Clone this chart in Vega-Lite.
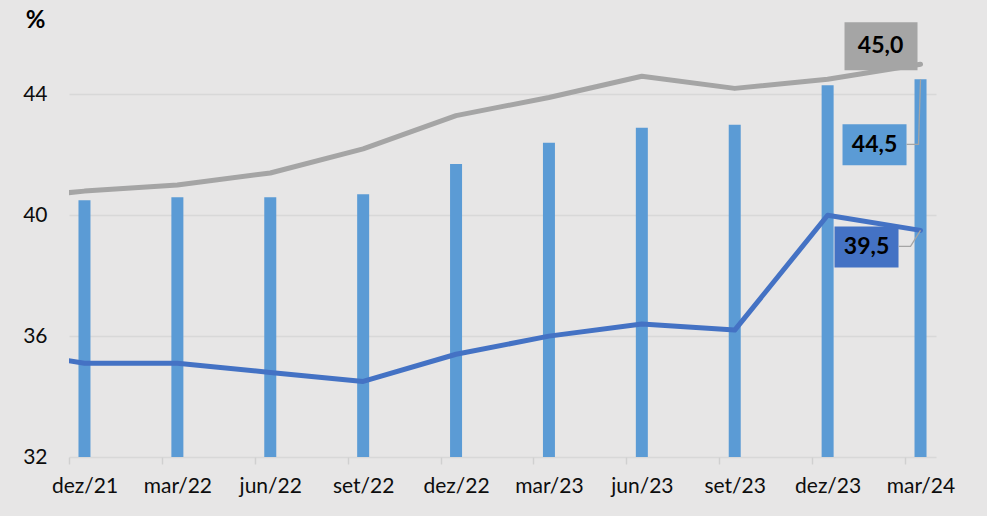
{
  "$schema": "https://vega.github.io/schema/vega-lite/v6.json",
  "autosize": "none",
  "width": 867,
  "height": 423,
  "padding": {"left": 69, "top": 34, "right": 51, "bottom": 59},
  "background": "#e7e6e6",
  "config": {"view": {"stroke": null}, "font": "Lato"},
  "datasets": {
    "bars": [
      {"m": 0, "v": 40.5}, {"m": 3, "v": 40.6}, {"m": 6, "v": 40.6}, {"m": 9, "v": 40.7},
      {"m": 12, "v": 41.7}, {"m": 15, "v": 42.4}, {"m": 18, "v": 42.9}, {"m": 21, "v": 43.0},
      {"m": 24, "v": 44.3}, {"m": 27, "v": 44.5}
    ],
    "lines": [
      {"series": "cinza", "m": -3, "v": 40.5}, {"series": "cinza", "m": 0, "v": 40.8},
      {"series": "cinza", "m": 3, "v": 41.0}, {"series": "cinza", "m": 6, "v": 41.4},
      {"series": "cinza", "m": 9, "v": 42.2}, {"series": "cinza", "m": 12, "v": 43.3},
      {"series": "cinza", "m": 15, "v": 43.9}, {"series": "cinza", "m": 18, "v": 44.6},
      {"series": "cinza", "m": 21, "v": 44.2}, {"series": "cinza", "m": 24, "v": 44.5},
      {"series": "cinza", "m": 27, "v": 45.0},
      {"series": "azul", "m": -3, "v": 35.6}, {"series": "azul", "m": 0, "v": 35.1},
      {"series": "azul", "m": 3, "v": 35.1}, {"series": "azul", "m": 6, "v": 34.8},
      {"series": "azul", "m": 9, "v": 34.5}, {"series": "azul", "m": 12, "v": 35.4},
      {"series": "azul", "m": 15, "v": 36.0}, {"series": "azul", "m": 18, "v": 36.4},
      {"series": "azul", "m": 21, "v": 36.2}, {"series": "azul", "m": 24, "v": 40.0},
      {"series": "azul", "m": 27, "v": 39.5}
    ],
    "labels": [
      {"k": "cinza", "m": 27, "v": 45.0, "label": "45,0"},
      {"k": "barras", "m": 27, "v": 44.5, "label": "44,5"},
      {"k": "azul", "m": 27, "v": 39.5, "label": "39,5"}
    ]
  },
  "encoding": {
    "x": {
      "field": "m", "type": "quantitative",
      "scale": {"domain": [-0.5, 27.5], "nice": false, "zero": false, "padding": 0},
      "axis": {
        "values": [0, 3, 6, 9, 12, 15, 18, 21, 24, 27],
        "title": null, "grid": false, "domain": false,
        "ticks": true, "tickColor": "#d0d0d0", "tickWidth": 1.5, "tickSize": 7,
        "tickOffset": -15.5, "labelOffset": 15.5,
        "labelFont": "Lato", "labelFontSize": 21, "labelColor": "#0d0d0d",
        "labelPadding": 11, "labelFlush": false, "labelOverlap": false,
        "labelExpr": "['dez/21','mar/22','jun/22','set/22','dez/22','mar/23','jun/23','set/23','dez/23','mar/24'][round(datum.value/3)]"
      }
    },
    "y": {
      "field": "v", "type": "quantitative",
      "scale": {"domain": [32, 46], "nice": false, "zero": false},
      "axis": {
        "values": [32, 36, 40, 44],
        "title": "%", "titleAngle": 0, "titleAlign": "center", "titleBaseline": "middle",
        "titleX": -34, "titleY": -14, "titleFont": "Lato", "titleFontSize": 24, "titleFontWeight": "bold", "titleColor": "#000000",
        "grid": true, "gridColor": "#d8d8d8", "gridWidth": 1.5,
        "domain": false, "ticks": false, "tickSize": 0,
        "labelPadding": 22, "labelFont": "Lato", "labelFontSize": 21, "labelColor": "#0d0d0d"
      }
    }
  },
  "layer": [
    {
      "data": {"name": "bars"},
      "mark": {"type": "bar", "width": 12, "color": "#5b9bd5"},
      "encoding": {"y2": {"datum": 32}}
    },
    {
      "data": {"name": "lines"},
      "mark": {"type": "line", "strokeWidth": 5, "clip": true, "strokeJoin": "round", "strokeCap": "round"},
      "encoding": {
        "color": {"field": "series", "type": "nominal", "scale": {"domain": ["cinza", "azul"], "range": ["#a5a5a5", "#4472c4"]}, "legend": null}
      }
    },
    {
      "data": {"name": "labels"},
      "transform": [{"filter": "datum.k == 'cinza'"}],
      "mark": {"type": "point", "shape": "M-76,-42L-3,-42L-3,6L-76,6Z", "size": 4, "filled": true, "color": "#a5a5a5", "opacity": 1, "strokeWidth": 0}
    },
    {
      "data": {"name": "labels"},
      "transform": [{"filter": "datum.k == 'barras'"}],
      "mark": {"type": "point", "shape": "M-78,45L-14,45L-14,86L-78,86Z", "size": 4, "filled": true, "color": "#5b9bd5", "opacity": 1, "strokeWidth": 0}
    },
    {
      "data": {"name": "labels"},
      "transform": [{"filter": "datum.k == 'azul'"}],
      "mark": {"type": "point", "shape": "M-86,-4L-22,-4L-22,37L-86,37Z", "size": 4, "filled": true, "color": "#4472c4", "opacity": 1, "strokeWidth": 0}
    },
    {
      "data": {"name": "labels"},
      "transform": [{"filter": "datum.k == 'barras'"}],
      "mark": {"type": "point", "shape": "M-14,65L-2,65L0,0", "size": 4, "filled": false, "color": "#a5a5a5", "opacity": 1, "strokeWidth": 1.3}
    },
    {
      "data": {"name": "labels"},
      "transform": [{"filter": "datum.k == 'azul'"}],
      "mark": {"type": "point", "shape": "M-22,16L-10,16L0,0", "size": 4, "filled": false, "color": "#a5a5a5", "opacity": 1, "strokeWidth": 1.3}
    },
    {
      "data": {"name": "labels"},
      "transform": [{"filter": "datum.k == 'cinza'"}],
      "mark": {"type": "text", "dx": -40, "dy": -18, "font": "Lato", "fontSize": 23, "fontWeight": "bold", "color": "#000000", "align": "center", "baseline": "middle"},
      "encoding": {"text": {"field": "label"}}
    },
    {
      "data": {"name": "labels"},
      "transform": [{"filter": "datum.k == 'barras'"}],
      "mark": {"type": "text", "dx": -46, "dy": 65.5, "font": "Lato", "fontSize": 23, "fontWeight": "bold", "color": "#000000", "align": "center", "baseline": "middle"},
      "encoding": {"text": {"field": "label"}}
    },
    {
      "data": {"name": "labels"},
      "transform": [{"filter": "datum.k == 'azul'"}],
      "mark": {"type": "text", "dx": -54, "dy": 16.5, "font": "Lato", "fontSize": 23, "fontWeight": "bold", "color": "#000000", "align": "center", "baseline": "middle"},
      "encoding": {"text": {"field": "label"}}
    }
  ]
}
